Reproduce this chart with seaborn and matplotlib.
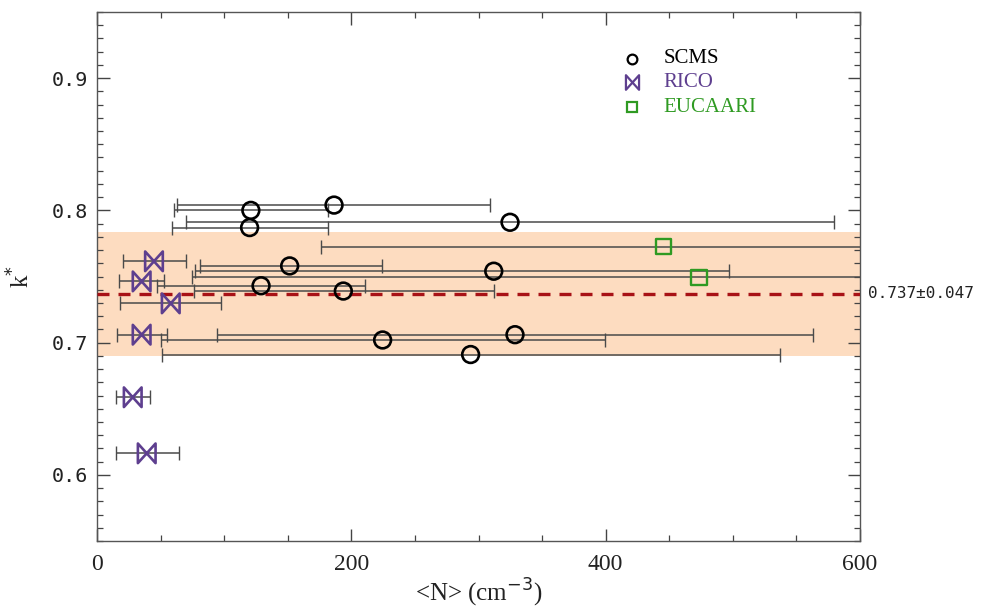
import numpy as np
import pandas as pd
import matplotlib
matplotlib.use("Agg")
import matplotlib.pyplot as plt
from matplotlib.path import Path
from matplotlib.ticker import MultipleLocator, FormatStrFormatter
import seaborn as sns

# Campaign-mean number concentration <N> (cm^-3) and k* with the N range
scms_n = [121.0, 186.4, 120.0, 324.8, 151.5, 312.0, 129.0, 193.7, 224.6, 328.7, 293.8]
scms_k = [0.800, 0.804, 0.787, 0.791, 0.758, 0.754, 0.743, 0.739, 0.702, 0.706, 0.691]
scms_lo = [60.8, 62.6, 58.7, 70.2, 80.7, 77.3, 47.2, 76.5, 50.6, 94.1, 51.3]
scms_hi = [181.4, 309.0, 181.9, 579.8, 224.4, 496.7, 211.0, 312.0, 399.2, 563.3, 537.0]

rico_n = [44.8, 35.1, 58.0, 35.1, 28.1, 39.1]
rico_k = [0.7615, 0.7463, 0.7297, 0.706, 0.6587, 0.6163]
rico_lo = [20.4, 17.3, 18.1, 15.5, 14.7, 14.7]
rico_hi = [70.2, 52.9, 97.5, 54.8, 41.9, 64.2]

euc_n = [445.6, 473.4]
euc_k = [0.7726, 0.7494]
euc_lo = [175.9, 74.4]
euc_hi = [715.0, 872.0]

k_mean = 0.737
k_std = 0.047

sns.set_theme(style="white")
plt.rcParams["font.family"] = ["Liberation Serif", "DejaVu Sans"]

fig = plt.figure(figsize=(9.81, 6.13), dpi=100)
ax = fig.add_axes([97 / 981, 1 - 541 / 613, 763 / 981, 529 / 613])

bar_color = "#4a4a4a"
c_scms = "black"
c_rico = "#5e3f8f"
c_euc = "#2f9a22"

# shaded 1-sigma band and the mean
ax.axhspan(k_mean - k_std, k_mean + k_std, color="#fddcc0", zorder=0, lw=0)
ax.axhline(k_mean, color="#a81216", lw=2.4, ls=(0, (3.6, 2.7)), zorder=3)


def ranges(n, lo, hi):
    n = np.asarray(n)
    return np.vstack([n - np.asarray(lo), np.asarray(hi) - n])


for n, k, lo, hi in [(scms_n, scms_k, scms_lo, scms_hi),
                     (rico_n, rico_k, rico_lo, rico_hi),
                     (euc_n, euc_k, euc_lo, euc_hi)]:
    ax.errorbar(n, k, xerr=ranges(n, lo, hi), fmt="none", ecolor=bar_color,
                elinewidth=1.1, capsize=5, capthick=1.0, zorder=2)

bowtie = Path([(-0.9, -1), (-0.9, 1), (0.9, -1), (0.9, 1), (-0.9, -1)],
              [Path.MOVETO, Path.LINETO, Path.LINETO, Path.LINETO, Path.CLOSEPOLY])

df_scms = pd.DataFrame({"N": scms_n, "k": scms_k})
df_rico = pd.DataFrame({"N": rico_n, "k": rico_k})
df_euc = pd.DataFrame({"N": euc_n, "k": euc_k})

sns.scatterplot(data=df_scms, x="N", y="k", ax=ax, marker="o", s=145,
                facecolors="none", edgecolors=c_scms, linewidths=1.9, zorder=4)
sns.scatterplot(data=df_rico, x="N", y="k", ax=ax, marker=bowtie, s=200,
                facecolors="none", edgecolors=c_rico, linewidths=1.9, zorder=4)
sns.scatterplot(data=df_euc, x="N", y="k", ax=ax, marker="s", s=125,
                facecolors="none", edgecolors=c_euc, linewidths=1.7, zorder=4)

ax.set_xlim(0, 600)
ax.set_ylim(0.55, 0.95)
ax.xaxis.set_major_locator(MultipleLocator(200))
ax.xaxis.set_minor_locator(MultipleLocator(50))
ax.yaxis.set_major_locator(MultipleLocator(0.1))
ax.yaxis.set_minor_locator(MultipleLocator(0.01))
ax.yaxis.set_major_formatter(FormatStrFormatter("%.1f"))

for s in ax.spines.values():
    s.set_color("#555555")
    s.set_linewidth(1.0)
    s.set_visible(True)

ax.tick_params(which="both", direction="in", top=True, right=True,
               bottom=True, left=True, color="#444444")
ax.tick_params(which="major", length=9, width=1.0)
ax.tick_params(which="minor", length=4.5, width=0.9)
ax.tick_params(axis="x", which="major", labelsize=17, pad=9, labelcolor="#222222")
ax.tick_params(axis="y", which="major", labelsize=14.5, pad=6.5, labelcolor="#222222")
for lab in ax.get_yticklabels():
    lab.set_family("DejaVu Sans Mono")

ax.set_xlabel(r"<N> (cm$^{-3}$)", fontsize=18, color="#222222", labelpad=2)
ax.set_ylabel(r"k$^{*}$", fontsize=18, color="#222222", labelpad=12)

# legend drawn as markers and coloured labels
lx, tx = 0.701, 0.742
for yy, mk, col, txt, ms in [(0.912, "o", c_scms, "SCMS", 7),
                             (0.867, bowtie, c_rico, "RICO", 10.5),
                             (0.820, "s", c_euc, "EUCAARI", 7)]:
    ax.plot([lx], [yy], transform=ax.transAxes, marker=mk, ms=ms, mfc="none",
            mec=col, mew=1.6, ls="none")
    ax.text(tx, yy, txt, transform=ax.transAxes, color=col, fontsize=15,
            va="center", ha="left")

ax.text(1.010, k_mean, "0.737\u00b10.047", transform=ax.get_yaxis_transform(),
        fontsize=11.5, va="center", ha="left", color="#222222",
        family="DejaVu Sans Mono")

fig.savefig("out.png", dpi=100)
